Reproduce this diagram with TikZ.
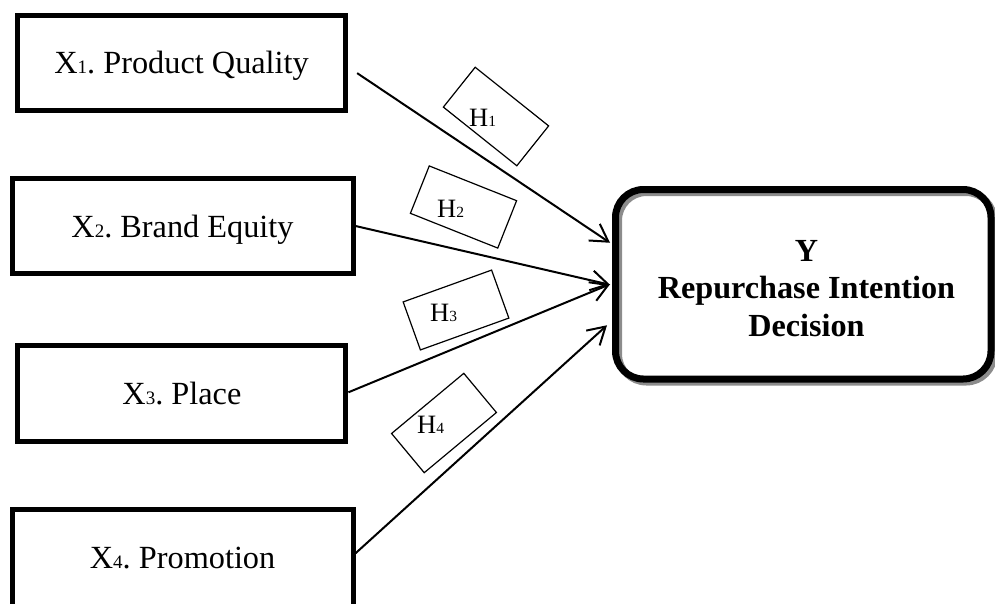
\documentclass[tikz,border=0pt]{standalone}
\usepackage{fontspec}
\setmainfont{Liberation Serif}
\usetikzlibrary{arrows.meta,calc,backgrounds}
\newcommand{\xsub}[1]{{\fontsize{19}{19}\selectfont #1}}
\newcommand{\hsub}[1]{{\fontsize{15.5}{15.5}\selectfont #1}}
\frenchspacing
\begin{document}
\begin{tikzpicture}[x=1pt,y=-1pt,
  varbox/.style={draw, line width=5pt, minimum height=95pt, inner sep=0pt,
    text height=22pt, text depth=0pt, font=\fontsize{32.3}{38}\selectfont},
  ybox/.style={draw, line width=7pt, rounded corners=28pt, minimum width=375.5pt,
    minimum height=189.5pt, inner sep=0pt},
  yshadow/.style={draw=black!45, line width=7pt, rounded corners=28pt},
  ylabel/.style={inner sep=0pt, align=center, text depth=0pt,
    font=\bfseries\fontsize{32.2}{37.5}\selectfont},
  hbox/.style={draw, line width=1.2pt, minimum width=94pt, minimum height=51pt, inner sep=0pt},
  hlabel/.style={inner sep=0pt, anchor=base west, font=\fontsize{26.5}{26.5}\selectfont},
  link/.style={line width=2pt, -{Straight Barb[length=17pt,width=20pt]}}
]
\useasboundingbox (0,0) rectangle (995,603);
\clip (0,0) rectangle (995,603);

% left variable boxes
\node[varbox, minimum width=328pt] (b1) at (181.6,62.6) {X\xsub{1}. Product Quality};
\node[varbox, minimum width=341pt] (b2) at (182.5,226) {X\xsub{2}. Brand Equity};
\node[varbox, minimum width=328pt, minimum height=96pt] (b3) at (181.9,393.8) {X\xsub{3}. Place};
\node[varbox, minimum width=341pt, minimum height=100pt, text height=17.6pt] (b4) at (182.6,559.2) {X\xsub{4}. Promotion};

% dependent variable box
\node[ybox] (Y) at (803.25,284.25) {};
\begin{scope}[on background layer]
  \draw[yshadow] ($(Y.north west)+(6.5,6.5)$) rectangle ($(Y.south east)+(-0.5,-0.5)$);
\end{scope}
\node[ylabel] (ytext) at (806.5,288.3) {Y\\Repurchase Intention\\Decision};

% hypothesis labels
\node[hbox, rotate=-38.6] (h1) at (496,116.5) {};
\node[hlabel] (h1t) at (469,126) {H\hsub{1}};
\node[hbox, rotate=-21.7] (h2) at (463.5,207) {};
\node[hlabel] (h2t) at (437,217) {H\hsub{2}};
\node[hbox, rotate=19.8] (h3) at (456,310) {};
\node[hlabel] (h3t) at (430,321) {H\hsub{3}};
\node[hbox, rotate=39.8] (h4) at (444,423) {};
\node[hlabel] (h4t) at (417,433) {H\hsub{4}};

% connectors
\draw[link] ($(b1.east)+(9,10.5)$) -- ($(Y.west)+(-2,-41.5)$);
\draw[link] (b2.east) -- ($(Y.west)+(-2,0.5)$);
\draw[link] ($(b3.east)+(0,-1.5)$) -- ($(Y.west)+(-2,0)$);
\draw[link] ($(b4.east)+(0,-6)$) -- ($(Y.west)+(-5,41)$);
\end{tikzpicture}
\end{document}
